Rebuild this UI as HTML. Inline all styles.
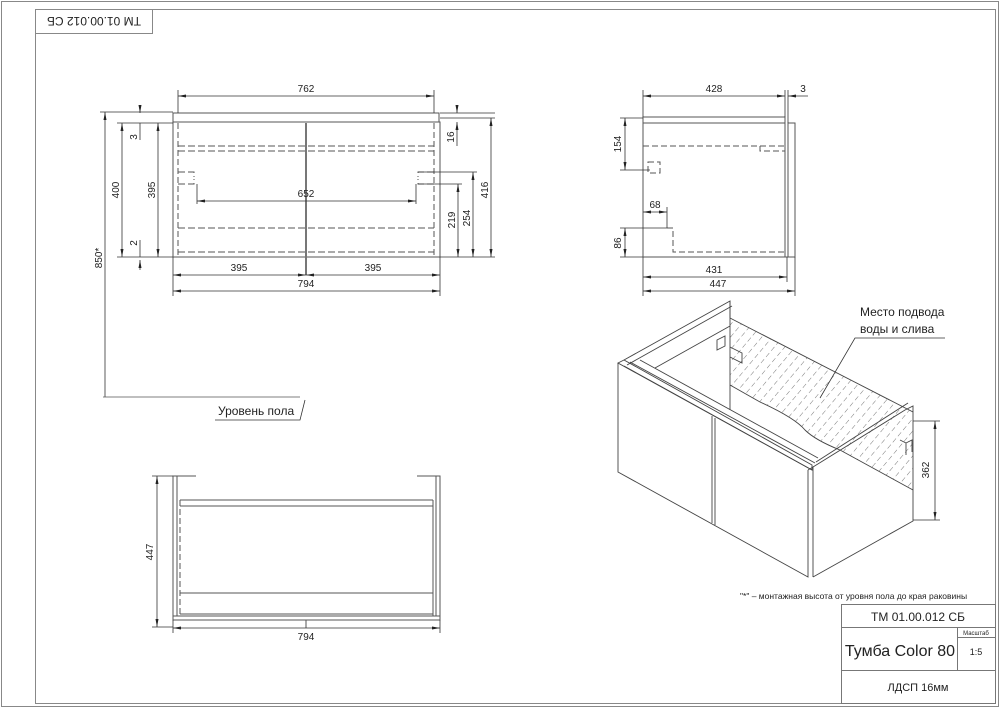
<!DOCTYPE html>
<html><head><meta charset="utf-8"><style>
html,body{margin:0;padding:0;background:#fff;width:1000px;height:708px;overflow:hidden}
svg{display:block}
text{font-family:"Liberation Sans",sans-serif;fill:#222}
</style></head><body>
<svg width="1000" height="708" viewBox="0 0 1000 708" xmlns="http://www.w3.org/2000/svg">
<defs>
<marker id="a" markerWidth="8" markerHeight="6" refX="8" refY="3" orient="auto-start-reverse" markerUnits="userSpaceOnUse"><path d="M0,1.5 L8,3 L0,4.5z" fill="#222"/></marker>
<pattern id="h" width="8" height="8" patternUnits="userSpaceOnUse" patternTransform="rotate(40)"><line x1="0" y1="0" x2="0" y2="5" stroke="#555" stroke-width="0.8"/></pattern>
</defs>
<g fill="none" stroke="#888" stroke-width="1">
<rect x="1.5" y="1.5" width="997" height="705"/>
<rect x="35.5" y="9.5" width="960" height="694"/>
<rect x="35.5" y="9.5" width="117" height="24"/>
</g>
<text x="94" y="21" font-size="12" text-anchor="middle" transform="rotate(180 94 21)" dy="4">ТМ 01.00.012 СБ</text>

<!-- FRONT VIEW -->
<g fill="none" stroke="#555" stroke-width="1">
<rect x="173" y="113" width="266" height="9"/>
<rect x="173" y="122" width="267" height="135"/>
<line x1="178" y1="123" x2="178" y2="257" stroke-dasharray="6,3"/>
<line x1="434" y1="123" x2="434" y2="257" stroke-dasharray="6,3"/>
<g stroke-dasharray="7,3">
<line x1="178" y1="146" x2="434" y2="146"/><line x1="178" y1="151" x2="434" y2="151"/>
<line x1="178" y1="228" x2="434" y2="228"/><line x1="178" y1="252" x2="434" y2="252"/>
<path d="M178,172 h16 v5 M178,184 h16 v-5 M434,172 h-16 v5 M434,184 h-16 v-5"/>
</g>
<line x1="306" y1="123" x2="306" y2="275" stroke="#777" stroke-width="2"/>
</g>
<g stroke="#333" stroke-width="0.8" fill="none">
<line x1="178" y1="96" x2="434" y2="96" marker-start="url(#a)" marker-end="url(#a)"/>
<line x1="178" y1="90" x2="178" y2="113"/><line x1="434" y1="90" x2="434" y2="113"/>
<line x1="197" y1="201" x2="416" y2="201" marker-start="url(#a)" marker-end="url(#a)"/>
<line x1="197" y1="184" x2="197" y2="204"/><line x1="416" y1="184" x2="416" y2="204"/>
<line x1="173" y1="275" x2="306" y2="275" marker-start="url(#a)" marker-end="url(#a)"/>
<line x1="306" y1="275" x2="440" y2="275" marker-start="url(#a)" marker-end="url(#a)"/>
<line x1="173" y1="291" x2="440" y2="291" marker-start="url(#a)" marker-end="url(#a)"/>
<line x1="173" y1="257" x2="173" y2="296"/><line x1="440" y1="257" x2="440" y2="296"/>
<line x1="122" y1="123" x2="122" y2="257" marker-start="url(#a)" marker-end="url(#a)"/>
<line x1="158" y1="123" x2="158" y2="257" marker-start="url(#a)" marker-end="url(#a)"/>
<line x1="140" y1="105" x2="140" y2="113" marker-end="url(#a)"/><line x1="140" y1="123" x2="140" y2="140"/>
<line x1="140" y1="240" x2="140" y2="257"/><line x1="140" y1="270" x2="140" y2="260" marker-end="url(#a)"/>
<line x1="105" y1="112" x2="105" y2="397" marker-start="url(#a)"/>
<line x1="100" y1="112" x2="173" y2="112"/><line x1="117" y1="123" x2="173" y2="123"/><line x1="117" y1="257" x2="173" y2="257"/>
<line x1="457" y1="105" x2="457" y2="113" marker-end="url(#a)"/><line x1="457" y1="122" x2="457" y2="146" marker-start="url(#a)"/>
<line x1="440" y1="113" x2="495" y2="113"/><line x1="440" y1="118" x2="495" y2="118"/>
<line x1="491" y1="118" x2="491" y2="257" marker-start="url(#a)" marker-end="url(#a)"/>
<line x1="473" y1="172" x2="473" y2="257" marker-start="url(#a)" marker-end="url(#a)"/>
<line x1="458" y1="184" x2="458" y2="257" marker-start="url(#a)" marker-end="url(#a)"/>
<line x1="418" y1="172" x2="477" y2="172"/><line x1="418" y1="184" x2="462" y2="184"/><line x1="440" y1="257" x2="495" y2="257"/>
<line x1="103" y1="397" x2="300" y2="397" stroke="#555"/>
<polyline points="215,420 300,420 305,400"/>
</g>
<g font-size="10" text-anchor="middle">
<text x="306" y="92">762</text><text x="306" y="197">652</text>
<text x="239" y="271">395</text><text x="373" y="271">395</text><text x="306" y="287">794</text>
<text transform="translate(119,190) rotate(-90)">400</text>
<text transform="translate(155,190) rotate(-90)">395</text>
<text transform="translate(137,137) rotate(-90)">3</text>
<text transform="translate(137,243) rotate(-90)">2</text>
<text transform="translate(102,258) rotate(-90)">850*</text>
<text transform="translate(454,137) rotate(-90)">16</text>
<text transform="translate(488,190) rotate(-90)">416</text>
<text transform="translate(470,218) rotate(-90)">254</text>
<text transform="translate(455,220) rotate(-90)">219</text>
</g>
<text x="218" y="415" font-size="12">Уровень пола</text>

<!-- SIDE VIEW -->
<g fill="none" stroke="#555" stroke-width="1">
<rect x="643" y="117" width="142" height="6"/>
<line x1="643" y1="123" x2="643" y2="257"/>
<line x1="643" y1="257" x2="788" y2="257"/>
<line x1="785" y1="117" x2="785" y2="257"/>
<rect x="788" y="123" width="7" height="134"/>
<g stroke-dasharray="6,3">
<line x1="643" y1="146" x2="785" y2="146"/>
<path d="M760,146 v5 h25"/>
<rect x="648" y="162" width="12" height="11"/>
<path d="M667,228 h6 v24 h112"/>
</g>
</g>
<g stroke="#333" stroke-width="0.8" fill="none">
<line x1="643" y1="96" x2="785" y2="96" marker-start="url(#a)" marker-end="url(#a)"/>
<line x1="643" y1="90" x2="643" y2="117"/><line x1="785" y1="90" x2="785" y2="117"/><line x1="788" y1="90" x2="788" y2="123"/>
<line x1="808" y1="96" x2="788" y2="96" marker-end="url(#a)"/>
<line x1="625" y1="118" x2="625" y2="170" marker-start="url(#a)" marker-end="url(#a)"/>
<line x1="620" y1="118" x2="643" y2="118"/><line x1="620" y1="170" x2="650" y2="170"/>
<line x1="625" y1="228" x2="625" y2="257" marker-start="url(#a)" marker-end="url(#a)"/>
<line x1="620" y1="228" x2="667" y2="228"/><line x1="620" y1="257" x2="643" y2="257"/>
<line x1="643" y1="212" x2="667" y2="212" marker-start="url(#a)" marker-end="url(#a)"/>
<line x1="667" y1="207" x2="667" y2="228"/>
<line x1="643" y1="277" x2="787" y2="277" marker-start="url(#a)" marker-end="url(#a)"/>
<line x1="643" y1="291" x2="795" y2="291" marker-start="url(#a)" marker-end="url(#a)"/>
<line x1="643" y1="257" x2="643" y2="296"/><line x1="787" y1="257" x2="787" y2="282"/><line x1="795" y1="257" x2="795" y2="296"/>
</g>
<g font-size="10" text-anchor="middle">
<text x="714" y="92">428</text><text x="803" y="92">3</text>
<text x="655" y="208">68</text><text x="714" y="273">431</text><text x="718" y="287">447</text>
<text transform="translate(621,144) rotate(-90)">154</text>
<text transform="translate(621,243) rotate(-90)">86</text>
</g>

<!-- ISO VIEW -->
<path d="M730,318 L913,412 L913,490 L840,450 Q815,440 805,430 Q795,418 760,402 L730,385 Z" fill="url(#h)" stroke="none"/>
<g fill="none" stroke="#444" stroke-width="0.9">
<path d="M618,363 L618,472 L808,577 L808,470"/>
<path d="M618,363 L624,360 L812,465 L812,470 Z"/>
<path d="M624,360 L730,301 L730,318"/>
<path d="M627,365 L732,306"/><path d="M655,368 L730,326"/>
<path d="M730,301 L730,410"/>
<path d="M624,366 L812,470"/>
<path d="M630,362 L815,463"/><path d="M640,360 L818,458"/>
<path d="M808,470 L813,467 L813,577"/>
<path d="M813,577 L913,521 L913,412"/>
<path d="M813,467 L905,410 L913,406 L913,412"/><path d="M816,462 L908,403"/>
<path d="M712,416 L712,523"/><path d="M715,418 L715,525"/>
<path d="M730,318 L913,412"/><path d="M730,385 L760,402 Q795,418 805,430 Q815,440 840,450 L913,490"/>
<path d="M717,340 l8,-4 v10 l-8,4 z"/><path d="M730,347 l12,6 v10 l-12,-6"/>
<path d="M900,440 l6,3 v12 M906,443 l6,-3 v12"/>
</g>
<g stroke="#333" stroke-width="0.8" fill="none">
<line x1="935" y1="421" x2="935" y2="520" marker-start="url(#a)" marker-end="url(#a)"/>
<line x1="913" y1="421" x2="940" y2="421"/><line x1="913" y1="520" x2="940" y2="520"/>
<polyline points="820,398 855,338 945,338"/>
</g>
<text transform="translate(929,470) rotate(-90)" font-size="10" text-anchor="middle">362</text>
<text x="860" y="316" font-size="12">Место подвода</text>
<text x="860" y="333" font-size="12">воды и слива</text>
<text x="740" y="599" font-size="8.5">"*" – монтажная высота от уровня пола до края раковины</text>

<!-- PLAN VIEW -->
<g fill="none" stroke="#555" stroke-width="1">
<path d="M196,476 H173 V620 H440 V476 H417"/>
<line x1="177" y1="476" x2="177" y2="616"/><line x1="436" y1="476" x2="436" y2="616"/>
<line x1="173" y1="616" x2="440" y2="616"/>
<line x1="180" y1="500" x2="180" y2="616" stroke-dasharray="6,3"/>
<line x1="433" y1="500" x2="433" y2="616"/>
<line x1="180" y1="500" x2="433" y2="500"/><line x1="180" y1="506" x2="433" y2="506"/>
<line x1="180" y1="593" x2="433" y2="593"/><line x1="180" y1="614" x2="433" y2="614"/>
<line x1="306" y1="620" x2="306" y2="628"/>
</g>
<g stroke="#333" stroke-width="0.8" fill="none">
<line x1="157" y1="476" x2="157" y2="627" marker-start="url(#a)" marker-end="url(#a)"/>
<line x1="152" y1="476" x2="173" y2="476"/><line x1="152" y1="627" x2="173" y2="627"/>
<line x1="173" y1="628" x2="440" y2="628" marker-start="url(#a)" marker-end="url(#a)"/>
<line x1="173" y1="620" x2="173" y2="633"/><line x1="440" y1="620" x2="440" y2="633"/>
</g>
<text x="306" y="640" font-size="10" text-anchor="middle">794</text>
<text transform="translate(153,552) rotate(-90)" font-size="10" text-anchor="middle">447</text>

<!-- TITLE BLOCK -->
<g fill="none" stroke="#777" stroke-width="1">
<rect x="841.5" y="604.5" width="154" height="99"/>
<line x1="841" y1="627.5" x2="995" y2="627.5"/><line x1="841" y1="670.5" x2="995" y2="670.5"/>
<line x1="957.5" y1="627" x2="957.5" y2="670"/><line x1="957" y1="637.5" x2="995" y2="637.5"/>
</g>
<text x="918" y="621" font-size="12" text-anchor="middle">ТМ 01.00.012 СБ</text>
<text x="900" y="656" font-size="16" text-anchor="middle">Тумба Color 80</text>
<text x="976" y="635" font-size="6" text-anchor="middle">Масштаб</text>
<text x="976" y="655" font-size="9" text-anchor="middle">1:5</text>
<text x="918" y="691" font-size="11" text-anchor="middle">ЛДСП 16мм</text>
</svg>
</body></html>
